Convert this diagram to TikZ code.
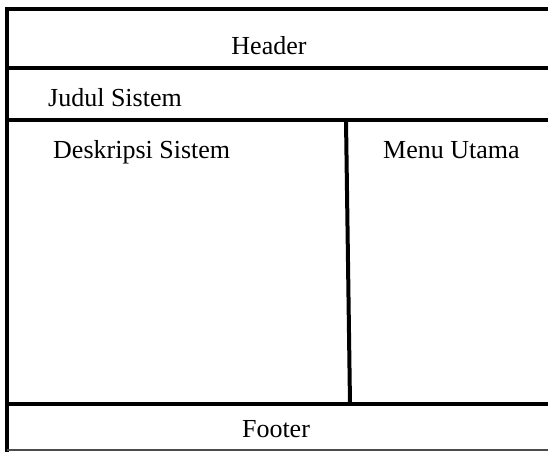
\documentclass[tikz,border=0pt]{standalone}
\usepackage{fontspec}
\setmainfont{Liberation Serif}
\begin{document}
\begin{tikzpicture}[x=1pt,y=-1pt,
  thickline/.style={line width=4pt,line cap=rect},
  lbl/.style={font=\fontsize{26}{30}\selectfont,inner sep=0pt}]
\useasboundingbox (0,0) rectangle (548,451);
\fill[white] (0,0) rectangle (548,451);
% frame
\draw[thickline] (7,9) -- (548,9);
\draw[thickline] (7,9) -- (7,451);
\draw[thickline] (7,68) -- (548,68);
\draw[thickline] (7,120) -- (548,120);
\draw[thickline] (7,404) -- (548,404);
\draw[line width=4pt] (346,120) -- (350,404);
\draw[line width=1.5pt,black!70] (7,450) -- (548,450);
% labels
\node[lbl,anchor=base] (header) at (269,54) {Header};
\node[lbl,anchor=base west] (judul) at (48,106) {Judul Sistem};
\node[lbl,anchor=base west] (deskripsi) at (53,158) {Deskripsi Sistem};
\node[lbl,anchor=base west] (menu) at (383,158) {Menu Utama};
\node[lbl,anchor=base] (footer) at (276,437) {Footer};
\end{tikzpicture}
\end{document}
